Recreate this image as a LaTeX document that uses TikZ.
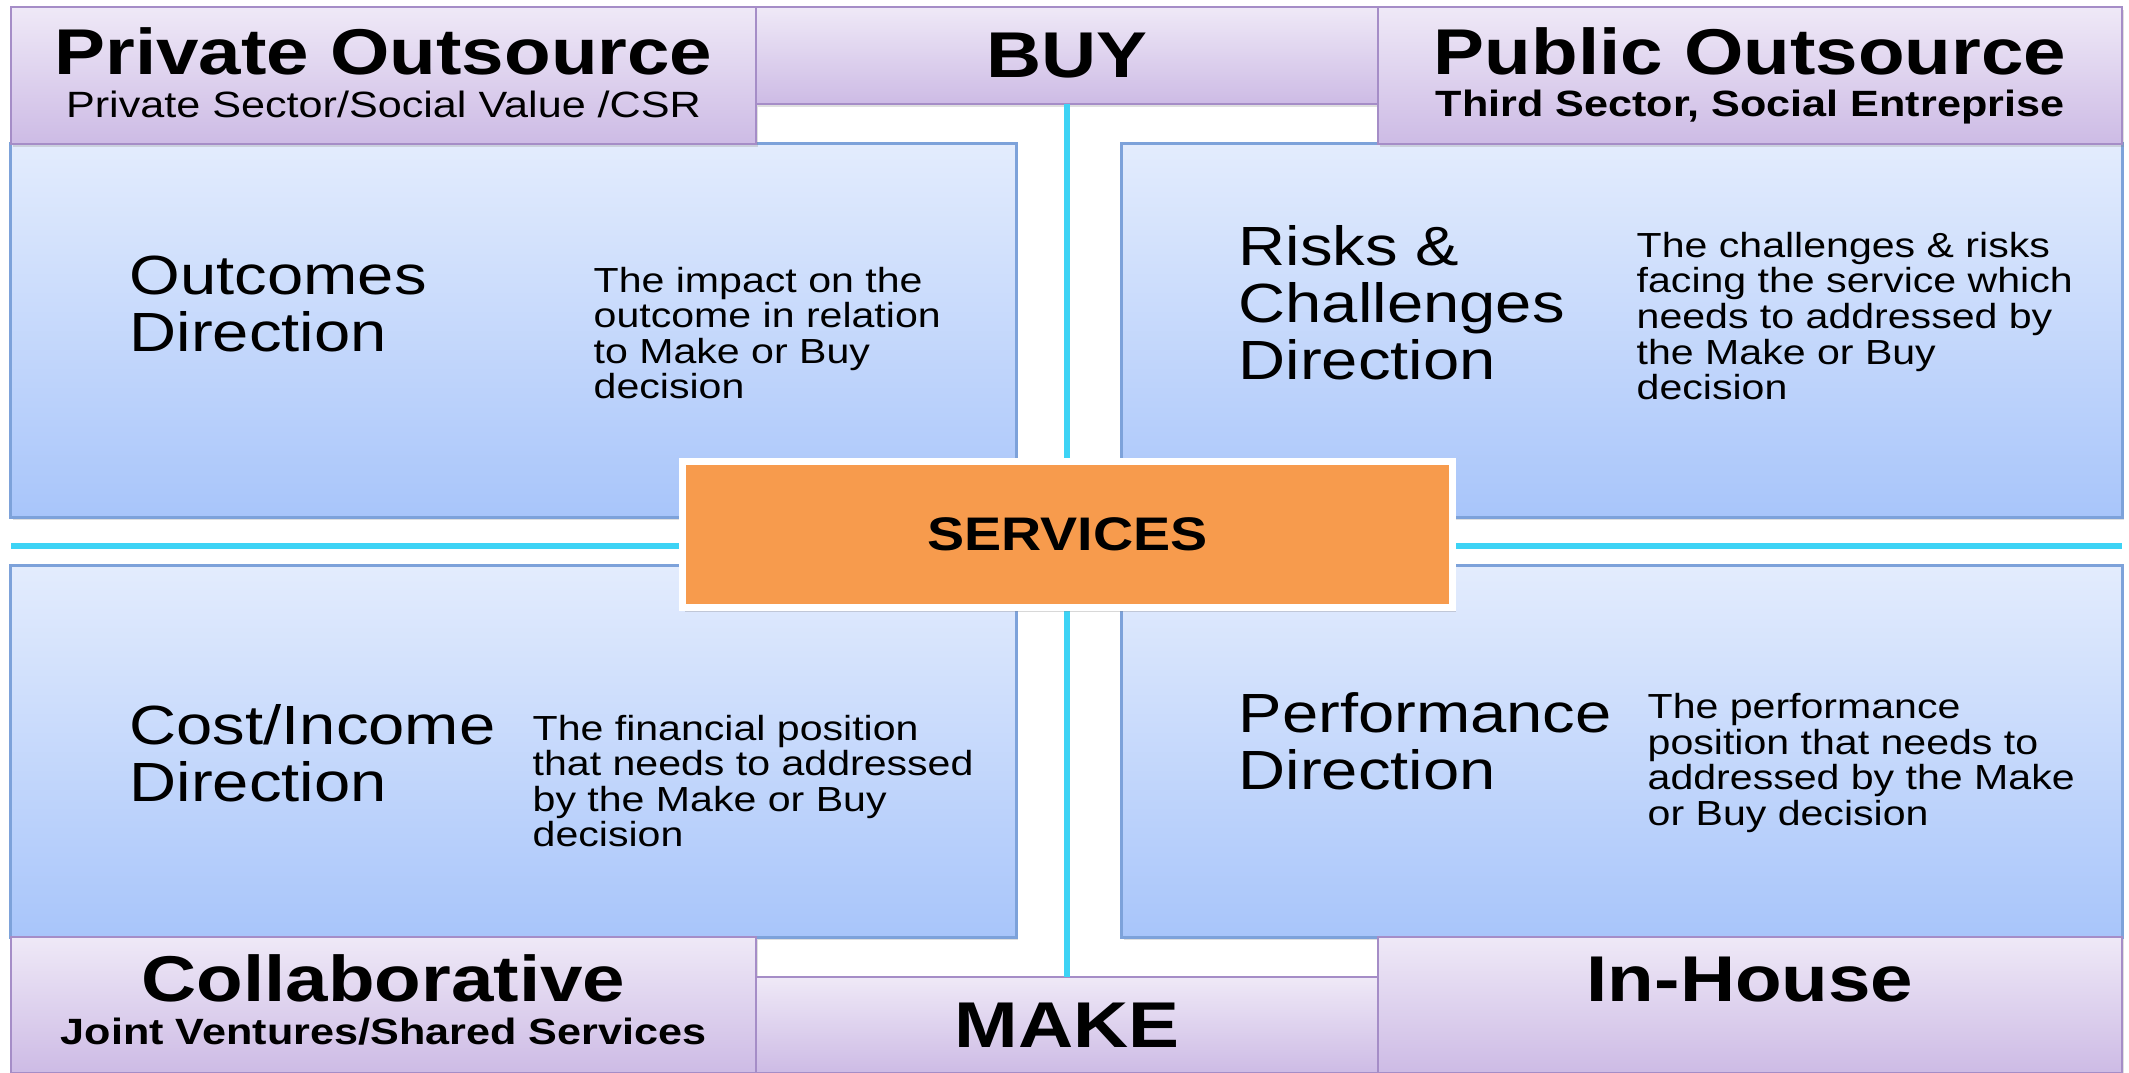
\documentclass[tikz,border=0pt]{standalone}
\usepackage{fontspec}
\setmainfont{Liberation Sans}[FakeStretch=1.18]
\usepackage{tikz}
\usetikzlibrary{shadows,positioning}

\definecolor{lilactop}{HTML}{EFE9F7}
\definecolor{lilacbot}{HTML}{CDBBE5}
\definecolor{lilacline}{HTML}{A58DC7}
\definecolor{skytop}{HTML}{E3ECFD}
\definecolor{skybot}{HTML}{A8C5FA}
\definecolor{skyline}{HTML}{7DA2DA}
\definecolor{cyanline}{HTML}{3DD3F5}
\definecolor{servorange}{HTML}{F79B4D}

\newcommand{\headfont}{\fontsize{18.4pt}{22pt}\selectfont\bfseries}
\newcommand{\subfont}{\fontsize{10.4pt}{12pt}\selectfont}
\newcommand{\dirfont}{\fontsize{15.7pt}{16.2pt}\selectfont}
\newcommand{\descfont}{\fontsize{9.9pt}{10.13pt}\selectfont}

\tikzset{
  lilacbox/.style={draw=lilacline, line width=0.6pt, top color=lilactop, bottom color=lilacbot,
    inner sep=0pt, outer sep=0pt, drop shadow={opacity=0.25, shadow xshift=0.6pt, shadow yshift=-0.9pt}},
  skybox/.style={draw=skyline, line width=0.8pt, top color=skytop, bottom color=skybot,
    inner sep=0pt, outer sep=0pt, drop shadow={opacity=0.25, shadow xshift=0.6pt, shadow yshift=-0.9pt}},
  servbox/.style={draw=white, line width=2pt, fill=servorange, inner sep=0pt, outer sep=0pt,
    minimum width=7.7cm, minimum height=1.46cm, font=\fontsize{13.4pt}{16pt}\selectfont\bfseries,
    drop shadow={opacity=0.3, shadow xshift=0.8pt, shadow yshift=-1.2pt}},
  cyanrule/.style={draw=cyanline, line width=1.8pt},
  headtext/.style={font=\headfont, inner sep=0pt, anchor=base},
  subtext/.style={font=\subfont, inner sep=0pt, anchor=base},
  dirlabel/.style={font=\dirfont, align=left, inner sep=0pt, anchor=west},
  desctext/.style={font=\descfont, align=left, inner sep=0pt, anchor=west}
}

\begin{document}
\begin{tikzpicture}[x=0.01cm,y=-0.01cm]
\path[use as bounding box, fill=white] (0,0) rectangle (2129,1073);

\node[skybox, minimum width=10.05cm, minimum height=3.73cm] (outbox) at (513.5,330.5) {};
\node[skybox, minimum width=10cm, minimum height=3.73cm] (riskbox) at (1622,330.5) {};
\node[skybox, minimum width=10.05cm, minimum height=3.71cm] (costbox) at (513.5,751.5) {};
\node[skybox, minimum width=10cm, minimum height=3.71cm] (perfbox) at (1622,751.5) {};

\node[lilacbox, minimum width=7.45cm, minimum height=1.37cm] (privbox) at (383.5,75.5) {};
\node[lilacbox, minimum width=6.22cm, minimum height=0.97cm, font=\headfont] (buybox) at (1067,55.5) {BUY};
\node[lilacbox, minimum width=7.44cm, minimum height=1.37cm] (pubbox) at (1750,75.5) {};
\node[lilacbox, minimum width=7.45cm, minimum height=1.36cm] (collbox) at (383.5,1005) {};
\node[lilacbox, minimum width=6.22cm, minimum height=0.96cm, font=\headfont] (makebox) at (1067,1025) {MAKE};
\node[lilacbox, minimum width=7.44cm, minimum height=1.36cm] (housebox) at (1750,1005) {};

\coordinate (hleft) at (11,546);
\coordinate (hright) at (2122,546);
\draw[cyanrule] (hleft) -- (hright);
\draw[cyanrule] (buybox.south) -- (makebox.north);

\node[servbox] (servbox) at (1067.5,534.5) {SERVICES};

\node[headtext] (privhead) at (383.5,75) {Private Outsource};
\node[subtext] (privsub) at (383.5,118) {Private Sector/Social Value /CSR};
\node[headtext] (pubhead) at (1750,75) {Public Outsource};
\node[subtext, font=\subfont\bfseries] (pubsub) at (1750,117) {Third Sector, Social Entreprise};
\node[headtext] (collhead) at (383.5,1001) {Collaborative};
\node[subtext, font=\subfont\bfseries] (collsub) at (383.5,1044) {Joint Ventures/Shared Services};
\node[headtext] (househead) at (1750,1001) {In-House};

\node[dirlabel] (outlabel) at (129,304) {Outcomes\\Direction};
\node[desctext] (outdesc) at (593,333) {The impact on the\\outcome in relation\\to Make or Buy\\decision};

\node[dirlabel] (risklabel) at (1238,303) {Risks \&\\Challenges\\Direction};
\node[desctext] (riskdesc) at (1636,316) {The challenges \& risks\\facing the service which\\needs to addressed by\\the Make or Buy\\decision};

\node[dirlabel] (costlabel) at (129,753) {Cost/Income\\Direction};
\node[desctext] (costdesc) at (532,781) {The financial position\\that needs to addressed\\by the Make or Buy\\decision};

\node[dirlabel] (perflabel) at (1238,741) {Performance\\Direction};
\node[desctext] (perfdesc) at (1647,763) {The performance\\position that needs to\\addressed by the Make\\or Buy decision};
\end{tikzpicture}
\end{document}
